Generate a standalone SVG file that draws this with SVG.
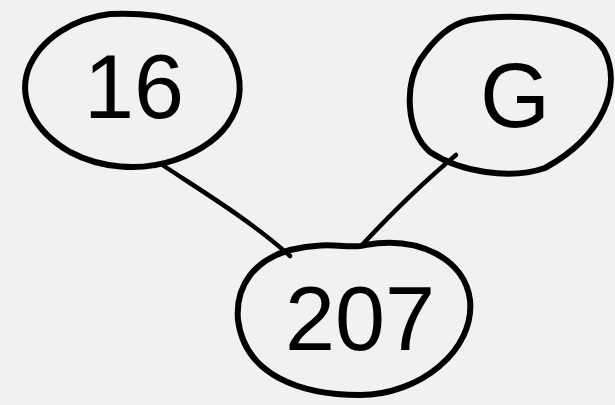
<svg xmlns="http://www.w3.org/2000/svg" width="615" height="405" viewBox="0 0 615 405">
<style>
.outline{fill:none;stroke:#000;stroke-width:6;stroke-linecap:round;stroke-linejoin:round}
.edge{fill:none;stroke:#000;stroke-width:4.5;stroke-linecap:round}
.label{font-family:"Liberation Sans",Arial,sans-serif;font-size:90px;fill:#000;text-anchor:middle}
</style>
<rect width="615" height="405" fill="#f1f1f0"/>
<g id="connectors">
<path class="edge" d="M 164 166 C 200 190, 250 220, 290 256"/>
<path class="edge" d="M 456 155 C 420 185, 390 215, 362 245"/>
</g>
<g id="node-16">
<path class="outline" d="M 110 14 C 160 12, 218 22, 234 60 C 250 100, 232 140, 175 160 C 140 172, 100 168, 70 152 C 35 132, 18 100, 28 70 C 40 38, 75 18, 110 14 Z"/>
<text class="label" x="134" y="118">16</text>
</g>
<g id="node-G">
<path class="outline" d="M 470 20 C 520 12, 585 18, 604 50 C 622 85, 605 135, 545 168 C 510 180, 460 172, 430 152 C 405 130, 405 85, 420 60 C 435 38, 450 24, 470 20 Z"/>
<text class="label" x="515" y="127">G</text>
</g>
<g id="node-207">
<path class="outline" d="M 290 250 C 330 240, 350 250, 365 245 C 420 235, 465 260, 470 300 C 475 350, 420 395, 360 395 C 300 395, 245 375, 238 320 C 235 285, 255 260, 290 250 Z"/>
<text class="label" x="360" y="350">207</text>
</g>
</svg>
